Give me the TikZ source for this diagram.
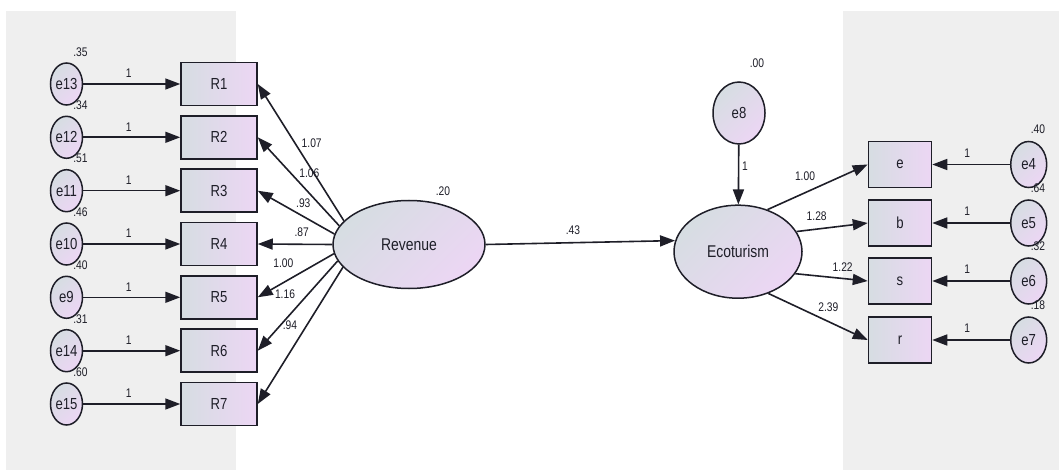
\documentclass[tikz,border=0pt]{standalone}
\usepackage{fontspec}
\setmainfont{Liberation Sans}[FakeStretch=0.82]
\usetikzlibrary{arrows.meta,shapes.geometric}
\definecolor{panel}{HTML}{EFEFEF}
\definecolor{boxL}{HTML}{D6DDE2}
\definecolor{boxR}{HTML}{ECD6F4}
\definecolor{ink}{HTML}{1E1E28}
\tikzset{
  obsbox/.style={rectangle, draw=ink, line width=1.5pt, left color=boxL, right color=boxR,
    inner sep=0pt, text=ink, font=\fontsize{16}{16}\selectfont},
  errnode/.style={ellipse, draw=ink, line width=1.5pt, left color=boxL, right color=boxR, shading angle=45,
    inner sep=0pt, text=ink, font=\fontsize{16}{16}\selectfont},
  latent/.style={ellipse, draw=ink, line width=1.5pt, left color=boxL, right color=boxR, shading angle=45,
    inner sep=0pt, text=ink, font=\fontsize{17}{17}\selectfont},
  lbl/.style={inner sep=0pt, text=ink, font=\fontsize{12.5}{12.5}\selectfont},
  arr/.style={draw=ink, line width=1.6pt, -{Triangle[length=15pt,width=11pt]}}
}
\begin{document}
\begin{tikzpicture}[x=1pt,y=-1pt]
\useasboundingbox (0,0) rectangle (1059,470);
\fill[panel] (6,11) rectangle (236,470);
\fill[panel] (843,11) rectangle (1059,470);

% left error circles and indicators
\foreach \en/\rn/\yy/\var in {e13/R1/84/.35, e12/R2/137.3/.34, e11/R3/190.7/.51, e10/R4/244/.46, e9/R5/297.3/.40, e14/R6/350.7/.31, e15/R7/404/.60}{
  \node[errnode, minimum width=32pt, minimum height=42pt] (\en) at (66.5,\yy) {\en};
  \node[obsbox, minimum width=76pt, minimum height=43pt] (\rn) at (219,\yy) {\rn};
  \node[lbl] (v\en) at (80.5,\yy-32) {\var};
  \draw[arr] (\en) -- (\rn) node[lbl, pos=0.47, yshift=10.5pt] (o\en) {1};
}

% latent variables
\node[latent, minimum width=152pt, minimum height=88pt] (rev) at (409,244.5) {Revenue};
\node[lbl] (vrev) at (443,191) {.20};
\node[latent, minimum width=128pt, minimum height=93pt] (eco) at (738,251.7) {Ecoturism};
\node[errnode, minimum width=52pt, minimum height=62pt] (e8) at (739,113) {e8};
\node[lbl] (ve8) at (757,63.3) {.00};

% Revenue -> R boxes
\draw[arr] (rev.160) -- (R1.east);
\draw[arr] (rev.165) -- (R2.east);
\draw[arr] (rev.172) -- (R3.east);
\draw[arr] (rev.180) -- (R4.east);
\draw[arr] (rev.187) -- (R5.east);
\draw[arr] (rev.193) -- (R6.east);
\draw[arr] (rev.199) -- (R7.east);
\node[lbl] (l1) at (311.7,143.3) {1.07};
\node[lbl] (l2) at (309.3,173.3) {1.06};
\node[lbl] (l3) at (303.3,202.7) {.93};
\node[lbl] (l4) at (301.7,231.7) {.87};
\node[lbl] (l5) at (283.3,263.3) {1.00};
\node[lbl] (l6) at (285,294) {1.16};
\node[lbl] (l7) at (290,325) {.94};

% structural path
\draw[arr] (rev.east) -- (eco.170);
\node[lbl] (l43) at (573,230) {.43};
\draw[arr] (e8) -- (eco);
\node[lbl] (l8) at (745,166.7) {1};

% right indicators
\foreach \bn/\bt/\en/\yy/\var in {Be/e/e4/164.5/.40, Bb/b/e5/223/.64, Bs/s/e6/281/.32, Br/r/e7/340/.18}{
  \node[obsbox, minimum width=63pt, minimum height=46pt] (\bn) at (900,\yy) {\bt};
  \node[errnode, minimum width=36pt, minimum height=46pt] (\en) at (1028.7,\yy) {\en};
  \node[lbl] (v\en) at (1038,\yy-35) {\var};
  \draw[arr] (\en) -- (\bn) node[lbl, pos=0.55, yshift=11.5pt] (o\en) {1};
}
\draw[arr] (eco.55) -- (Be.west);
\draw[arr] (eco.19) -- (Bb.west);
\draw[arr] (eco.-21) -- (Bs.west);
\draw[arr] (eco.-54) -- (Br.west);
\node[lbl] (r1) at (805,176) {1.00};
\node[lbl] (r2) at (816.7,215.7) {1.28};
\node[lbl] (r3) at (842.7,267.3) {1.22};
\node[lbl] (r4) at (828.3,306.7) {2.39};
\end{tikzpicture}
\end{document}
